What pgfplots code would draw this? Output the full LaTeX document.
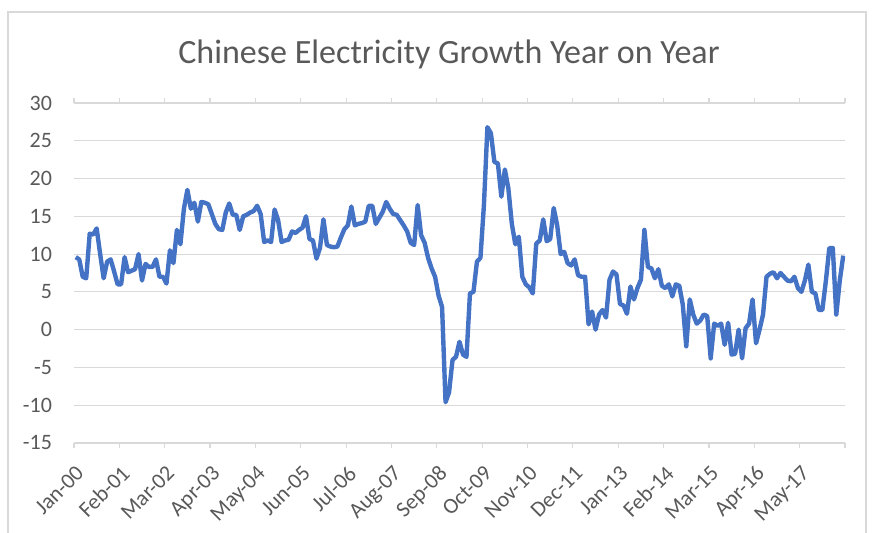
\documentclass[border=0pt]{standalone}
\usepackage{pgfplots}
\pgfplotsset{compat=1.18}
\usepackage{fontspec}
\setmainfont{Carlito}
\definecolor{txt}{HTML}{595959}
\definecolor{gridc}{HTML}{D9D9D9}
\definecolor{ln}{HTML}{4472C4}
\pgfplotstableread{
i v
0 9.6
1 9.3
2 7.0
3 6.8
4 12.7
5 12.6
6 13.4
7 10.0
8 6.8
9 9.0
10 9.3
11 7.7
12 6.0
13 6.0
14 9.6
15 7.6
16 7.8
17 8.0
18 10.0
19 6.5
20 8.7
21 8.3
22 8.3
23 9.3
24 7.0
25 7.0
26 6.1
27 10.5
28 8.8
29 13.2
30 11.3
31 16.0
32 18.5
33 16.0
34 16.8
35 14.3
36 16.9
37 16.8
38 16.6
39 15.3
40 14.0
41 13.3
42 13.2
43 15.5
44 16.7
45 15.2
46 15.2
47 13.2
48 15.0
49 15.2
50 15.5
51 15.7
52 16.4
53 15.3
54 11.6
55 11.8
56 11.6
57 15.9
58 14.5
59 11.6
60 11.8
61 11.9
62 13.0
63 12.8
64 13.2
65 13.5
66 15.0
67 12.0
68 11.8
69 9.4
70 10.8
71 14.6
72 11.2
73 11.0
74 10.9
75 11.0
76 12.2
77 13.3
78 13.8
79 16.3
80 13.8
81 14.0
82 14.1
83 14.3
84 16.4
85 16.4
86 14.0
87 14.8
88 15.6
89 16.9
90 16.0
91 15.3
92 15.2
93 14.5
94 13.8
95 13.0
96 11.5
97 11.2
98 16.5
99 12.5
100 11.5
101 9.5
102 8.1
103 7.0
104 4.5
105 3.0
106 -9.6
107 -8.3
108 -4.0
109 -3.6
110 -1.6
111 -3.3
112 -3.6
113 4.8
114 5.0
115 9.0
116 9.5
117 16.5
118 26.8
119 26.0
120 22.2
121 22.0
122 17.6
123 21.2
124 18.7
125 14.0
126 11.3
127 12.3
128 7.0
129 6.0
130 5.6
131 4.8
132 11.4
133 11.8
134 14.6
135 11.7
136 12.0
137 16.1
138 13.8
139 10.0
140 10.3
141 8.8
142 8.5
143 9.3
144 7.2
145 7.0
146 7.0
147 0.7
148 2.4
149 0.0
150 2.0
151 2.6
152 1.6
153 6.6
154 7.7
155 7.3
156 3.4
157 3.2
158 2.1
159 5.7
160 4.0
161 5.5
162 6.6
163 13.2
164 8.3
165 8.1
166 6.8
167 8.0
168 5.8
169 5.5
170 6.0
171 4.4
172 6.0
173 5.8
174 3.3
175 -2.2
176 4.0
177 2.0
178 0.8
179 1.2
180 2.0
181 1.8
182 -3.8
183 0.8
184 0.5
185 0.8
186 -2.0
187 0.9
188 -3.3
189 -3.2
190 0.0
191 -3.8
192 0.2
193 0.8
194 4.0
195 -1.8
196 0.0
197 2.0
198 7.0
199 7.4
200 7.6
201 6.8
202 7.5
203 7.0
204 6.5
205 6.4
206 7.0
207 5.5
208 5.0
209 6.5
210 8.6
211 5.0
212 4.8
213 2.6
214 2.6
215 6.4
216 10.8
217 10.8
218 2.0
219 6.5
220 9.8
}\elec
\begin{document}
\begin{tikzpicture}
\path[use as bounding box] (0,0) rectangle (438pt,266.5pt);
\draw[gridc, line width=0.6pt] (4pt,0pt) -- (4pt,260.5pt) -- (433pt,260.5pt) -- (433pt,0pt);
\node[anchor=base, text=txt, font=\fontsize{17}{20}\selectfont, inner sep=0pt] at (224.5pt,234.5pt) {Chinese Electricity Growth Year on Year};
\coordinate (ax) at (37pt,45pt);
\begin{axis}[
  at={(ax)}, anchor=south west,
  scale only axis, width=385.5pt, height=170pt,
  xmin=-0.5, xmax=220.5, ymin=-15, ymax=30,
  ytick={-15,-10,-5,0,5,10,15,20,25,30},
  xtick={0,13,26,39,52,65,78,91,104,117,130,143,156,169,182,195,208},
  xticklabels={Jan-00,Feb-01,Mar-02,Apr-03,May-04,Jun-05,Jul-06,Aug-07,Sep-08,Oct-09,Nov-10,Dec-11,Jan-13,Feb-14,Mar-15,Apr-16,May-17},
  major tick length=0pt,
  extra x ticks={-0.5,12.5,25.5,38.5,51.5,64.5,77.5,90.5,103.5,116.5,129.5,142.5,155.5,168.5,181.5,194.5,207.5,220.5},
  extra x tick labels={},
  extra x tick style={major tick length=2.5pt, tick align=outside, tick style={gridc, line width=0.6pt}},
  axis line style={draw=none},
  ymajorgrids, grid style={gridc, line width=0.6pt},
  tick label style={text=txt, font=\fontsize{11}{13}\selectfont},
  /pgf/number format/assume math mode=true,
  yticklabel style={xshift=-7.5pt},
  xticklabel style={xshift=-0.5pt, yshift=-9pt, rotate=45, anchor=north east, inner sep=1pt},
]
\addplot[ln, line width=2.2pt, line join=round, mark=none] table[x=i, y=v] {\elec};
\end{axis}
\end{tikzpicture}
\end{document}
